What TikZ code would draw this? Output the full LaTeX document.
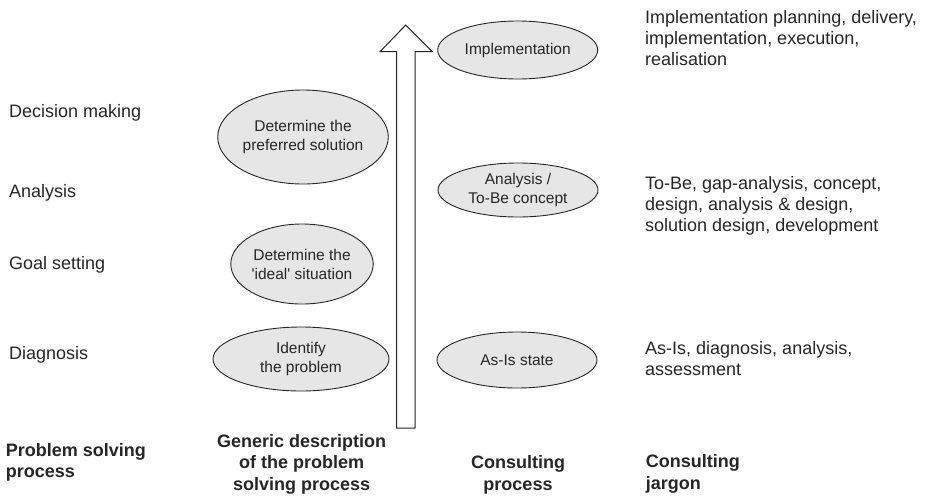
\documentclass[tikz,border=0pt]{standalone}
\usepackage{fontspec}
\setmainfont{Liberation Sans}
\usetikzlibrary{shapes.geometric}
\definecolor{ink}{HTML}{262626}
\definecolor{stage}{HTML}{E6E6E6}
\tikzset{
  side/.style={anchor=base west, inner sep=0pt, text=ink, align=left,
    font=\fontsize{18}{21}\selectfont},
  head/.style={inner sep=0pt, text=ink, anchor=base,
    font=\fontsize{18}{21.5}\selectfont\bfseries},
  stagebox/.style={ellipse, draw=black!85, line width=0.9pt, fill=stage,
    inner sep=0pt, align=center, text=ink,
    font=\fontsize{15.5}{19}\selectfont},
}
\begin{document}
\begin{tikzpicture}[x=1pt, y=-1pt]
\useasboundingbox (0,0) rectangle (925,496);

% problem-solving phases
\node[side] (decide) at (9,117.7) {Decision making};
\node[side] (analyse) at (9,197.3) {Analysis};
\node[side] (goal) at (9,269.3) {Goal setting};
\node[side] (diag) at (9,359.3) {Diagnosis};

% generic steps
\node[stagebox, minimum width=142pt, minimum height=94pt] (pref) at (303,137)
  {Determine the\\preferred solution};
\node[stagebox, minimum width=138pt, minimum height=80pt] (ideal) at (302,264)
  {Determine the\\\textquotesingle ideal\textquotesingle\ situation};
\node[stagebox, minimum width=176pt, minimum height=64pt] (ident) at (301,359)
  {Identify\\the problem};

% consulting process
\node[stagebox, minimum width=160pt, minimum height=58pt] (impl) at (517.7,50)
  {Implementation};
\node[stagebox, minimum width=160pt, minimum height=54pt] (tobe) at (518,190)
  {Analysis /\\To-Be concept};
\node[stagebox, minimum width=160pt, minimum height=56pt] (asis) at (517,360)
  {As-Is state};

% upward block arrow
\draw[black!85, line width=1pt, fill=white, line join=miter]
  (396.7,428) -- (396.7,51.7) -- (380,51.7) -- (405.7,25) -- (432.3,51.7)
  -- (415,51.7) -- (415,428) -- cycle;

% consulting jargon (base anchor sits on the last line)
\node[side] (jimpl) at (645,65)
  {Implementation planning, delivery,\\implementation, execution,\\realisation};
\node[side] (jtobe) at (645,231)
  {To-Be, gap-analysis, concept,\\design, analysis \& design,\\solution design, development};
\node[side] (jasis) at (645,375)
  {As-Is, diagnosis, analysis,\\assessment};

% column headings
\node[head, anchor=base west, align=left] (hpsp) at (5.7,477.5)
  {Problem solving\\process};
\node[head, align=center] (hgen) at (301.7,490)
  {Generic description\\of the problem\\solving process};
\node[head, align=center] (hcon) at (518,490)
  {Consulting\\process};
\node[head, anchor=base west, align=left] (hjar) at (645.7,489)
  {Consulting\\jargon};
\end{tikzpicture}
\end{document}
